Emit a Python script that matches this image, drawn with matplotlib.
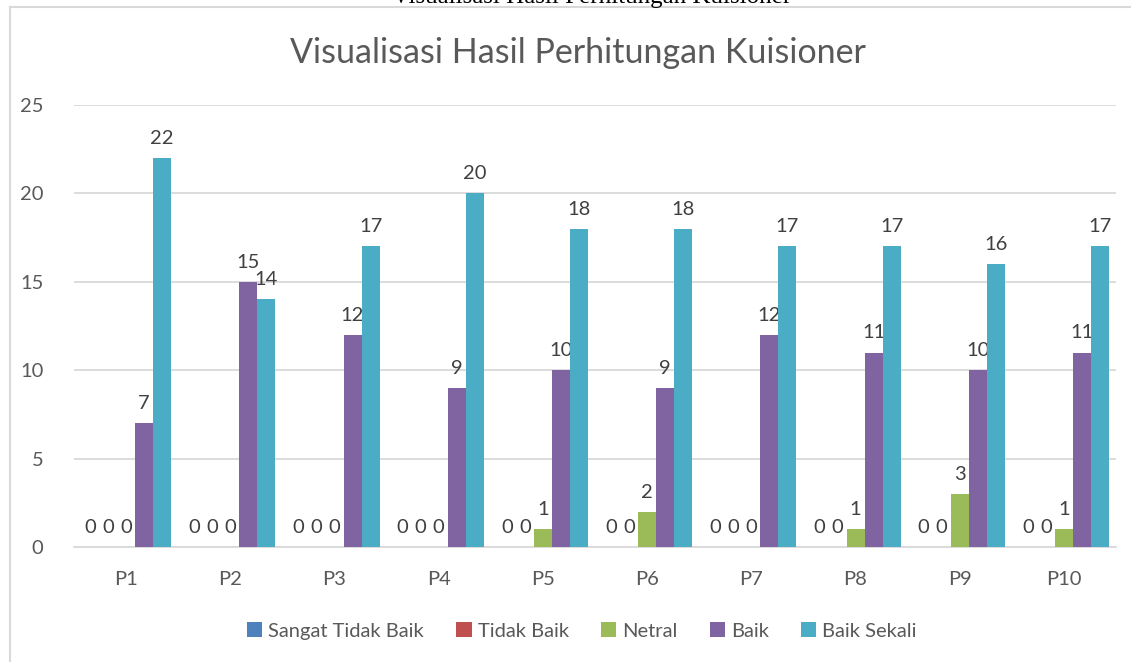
import matplotlib
matplotlib.use("Agg")
import matplotlib.pyplot as plt
import numpy as np
from matplotlib.lines import Line2D
from matplotlib.patches import Patch

categories = ["P1", "P2", "P3", "P4", "P5", "P6", "P7", "P8", "P9", "P10"]
series_names = ["Sangat Tidak Baik", "Tidak Baik", "Netral", "Baik", "Baik Sekali"]
sangat_tidak_baik = [0, 0, 0, 0, 0, 0, 0, 0, 0, 0]
tidak_baik = [0, 0, 0, 0, 0, 0, 0, 0, 0, 0]
netral = [0, 0, 0, 0, 1, 2, 0, 1, 3, 1]
baik = [7, 15, 12, 9, 10, 9, 12, 11, 10, 11]
baik_sekali = [22, 14, 17, 20, 18, 18, 17, 17, 16, 17]
colors = ["#4F81BD", "#C0504D", "#9BBB59", "#8064A2", "#4BACC6"]

plt.rcParams['font.family'] = ['Lato', 'DejaVu Sans']
txt = "#595959"

fig = plt.figure(figsize=(11.31, 6.62), dpi=100)
ax = fig.add_axes([74/1131, 1-547/662, (1116-74)/1131, (547-105)/662])

data = [sangat_tidak_baik, tidak_baik, netral, baik, baik_sekali]
x = np.arange(len(categories))
w = 18/104.2
for i, (vals, c, name) in enumerate(zip(data, colors, series_names)):
    pos = x + (i - 2) * w
    ax.bar(pos, vals, w, color=c, label=name, zorder=3)
    for p, v in zip(pos, vals):
        ax.annotate(str(v), (p, v), xytext=(0, 8), textcoords="offset points",
                    ha="center", va="bottom", fontsize=14.5, color="#404040")

ax.set_xlim(-0.5, len(categories) - 0.5)
ax.set_ylim(0, 25)
ax.set_yticks([0, 5, 10, 15, 20, 25])
ax.set_xticks(x)
ax.set_xticklabels(categories)
ax.grid(axis="y", color="#d9d9d9", linewidth=1.3, zorder=0)
for s in ["top", "right", "left"]:
    ax.spines[s].set_visible(False)
ax.spines["bottom"].set_color("#d9d9d9")
ax.spines["bottom"].set_linewidth(1.3)
ax.tick_params(axis="both", length=0, labelsize=14.5, colors=txt)
ax.tick_params(axis="y", pad=22)
ax.tick_params(axis="x", pad=17)

fig.text(0.511, 1 - 53/662, "Visualisasi Hasil Perhitungan Kuisioner",
         ha="center", va="center", fontsize=24.5, color=txt)

fig.text(592/1131, 1 - 2.5/662, "Visualisasi Hasil Perhitungan Kuisioner",
         ha="center", va="baseline", fontsize=18, color="black",
         family=["Liberation Serif", "DejaVu Serif"])

# chart frame
fig.add_artist(Line2D([10/1131, 10/1131], [0, 1 - 7/662], transform=fig.transFigure,
                      color="#d9d9d9", linewidth=1.5))
fig.add_artist(Line2D([10/1131, 1], [1 - 7/662, 1 - 7/662], transform=fig.transFigure,
                      color="#d9d9d9", linewidth=1.5))

handles = [Patch(facecolor=c, label=n) for c, n in zip(colors, series_names)]
fig.legend(handles=handles, loc="center", bbox_to_anchor=(582/1131, 1 - 631/662),
           ncol=5, frameon=False, fontsize=14.5, handlelength=0.75, handleheight=0.75,
           handletextpad=0.3, columnspacing=1.6, labelcolor=txt)

fig.savefig("out.png", dpi=100)
